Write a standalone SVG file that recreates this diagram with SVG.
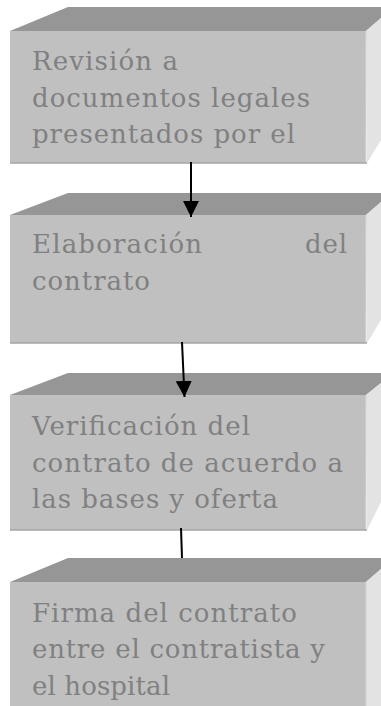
<svg xmlns="http://www.w3.org/2000/svg" width="381" height="706" viewBox="0 0 381 706">
<defs>
<style>
.top{fill:#969696}
.front{fill:#c0c0c0}
.side{fill:#e3e3e3}
.edge{stroke:#a6a6a6;stroke-width:1.5;fill:none}
.hl{stroke:#d8d8d8;stroke-width:1;fill:none}
.t{font-family:"DejaVu Serif","Liberation Serif",serif;font-size:26px;fill:#808080}
.conn{stroke:#000;stroke-width:2;fill:none}
</style>
<marker id="ah" viewBox="0 0 16 16" refX="16" refY="8" markerWidth="16" markerHeight="16" markerUnits="userSpaceOnUse" orient="auto">
<path d="M0,0 L16,8 L0,16 Z" fill="#000"/>
</marker>
</defs>
<rect width="381" height="706" fill="#fff"/>
<g id="node1">
<polygon class="top" points="10,31 68,7 381,7 381,18 366,31"/>
<polygon class="side" points="366,31 381,18 381,140 367,163"/>
<rect class="front" x="10" y="31" width="356" height="132"/>
<line class="hl" x1="366" y1="31" x2="366" y2="163"/>
<line class="edge" x1="10" y1="163" x2="367" y2="163"/>
<text class="t" x="32" y="70" textLength="146" lengthAdjust="spacing">Revisión a</text>
<text class="t" x="32" y="107" textLength="278" lengthAdjust="spacing">documentos legales</text>
<text class="t" x="32" y="143" textLength="263" lengthAdjust="spacing">presentados por el</text>
</g>
<g id="node2">
<polygon class="top" points="10,215 68,193 381,193 381,202 366,215"/>
<polygon class="side" points="366,215 381,202 381,320 367,343"/>
<rect class="front" x="10" y="215" width="356" height="128"/>
<line class="hl" x1="366" y1="215" x2="366" y2="343"/>
<line class="edge" x1="10" y1="343" x2="367" y2="343"/>
<text class="t" x="32" y="253" textLength="170" lengthAdjust="spacing">Elaboración</text>
<text class="t" x="305" y="253" textLength="42" lengthAdjust="spacing">del</text>
<text class="t" x="32" y="290" textLength="118" lengthAdjust="spacing">contrato</text>
</g>
<g id="node3">
<polygon class="top" points="10,395 68,373 381,373 381,383 366,395"/>
<polygon class="side" points="366,395 381,383 381,502 367,530"/>
<rect class="front" x="10" y="395" width="356" height="135"/>
<line class="hl" x1="366" y1="395" x2="366" y2="530"/>
<line class="edge" x1="10" y1="530" x2="367" y2="530"/>
<text class="t" x="32" y="435" textLength="218" lengthAdjust="spacing">Verificación del</text>
<text class="t" x="32" y="472" textLength="311" lengthAdjust="spacing">contrato de acuerdo a</text>
<text class="t" x="32" y="508" textLength="246" lengthAdjust="spacing">las bases y oferta</text>
</g>
<g id="node4">
<polygon class="top" points="10,582 68,558 381,558 381,569 366,582"/>
<polygon class="side" points="366,582 381,569 381,706 366,706"/>
<rect class="front" x="10" y="582" width="356" height="124"/>
<line class="hl" x1="366" y1="582" x2="366" y2="706"/>
<text class="t" x="32" y="622" textLength="265" lengthAdjust="spacing">Firma del contrato</text>
<text class="t" x="32" y="658" textLength="293" lengthAdjust="spacing">entre el contratista y</text>
<text class="t" x="32" y="695" textLength="138" lengthAdjust="spacing">el hospital</text>
</g>
<g id="connectors">
<line class="conn" x1="191" y1="162" x2="191" y2="217" marker-end="url(#ah)"/>
<line class="conn" x1="182" y1="342" x2="184.5" y2="397" marker-end="url(#ah)"/>
<line class="conn" x1="181" y1="528" x2="182" y2="558"/>
</g>
</svg>
